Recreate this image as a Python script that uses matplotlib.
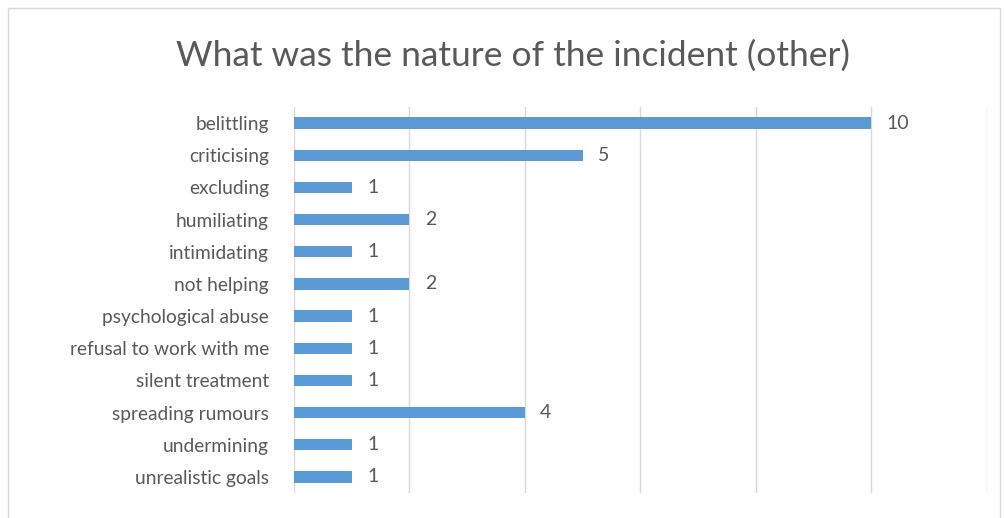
import matplotlib.pyplot as plt
from matplotlib.patches import Rectangle

categories = ["belittling", "criticising", "excluding", "humiliating", "intimidating",
              "not helping", "psychological abuse", "refusal to work with me",
              "silent treatment", "spreading rumours", "undermining", "unrealistic goals"]
counts = [10, 5, 1, 2, 1, 2, 1, 1, 1, 4, 1, 1]
x_ticks = [0, 2, 4, 6, 8, 10, 12]

plt.rcParams['font.family'] = ['Lato', 'DejaVu Sans']
grey = '#595959'

fig = plt.figure(figsize=(10.05, 5.18), dpi=100)
ax = fig.add_axes([0.2925, 0.0483, 0.6895, 0.7451])

ypos = list(range(len(categories)))
ax.barh(ypos, counts, height=0.35, color='#5B9BD5', zorder=3)
for y, v in zip(ypos, counts):
    ax.annotate(str(v), (v, y), xytext=(11, 0), textcoords='offset points',
                ha='left', va='center', fontsize=14, color=grey)

ax.set_xlim(0, 12)
ax.set_ylim(len(categories) - 0.5, -0.5)
ax.set_xticks(x_ticks)
ax.set_xticklabels([])
ax.set_yticks(ypos)
ax.set_yticklabels(categories, fontsize=13.8, color=grey)
ax.tick_params(axis='both', length=0)
ax.tick_params(axis='y', pad=18)
ax.grid(axis='x', color='#D9D9D9', linewidth=1, zorder=0)
for s in ax.spines.values():
    s.set_visible(False)

fig.text(0.51, 0.893, "What was the nature of the incident (other)", ha='center',
         va='center', fontsize=25.5, color=grey)

fig.patches.append(Rectangle((8 / 1005, -0.01), 992 / 1005, 1 - 8 / 518 + 0.01,
                             transform=fig.transFigure, fill=False,
                             edgecolor='#D9D9D9', linewidth=1))

fig.savefig('out.png', dpi=100)
